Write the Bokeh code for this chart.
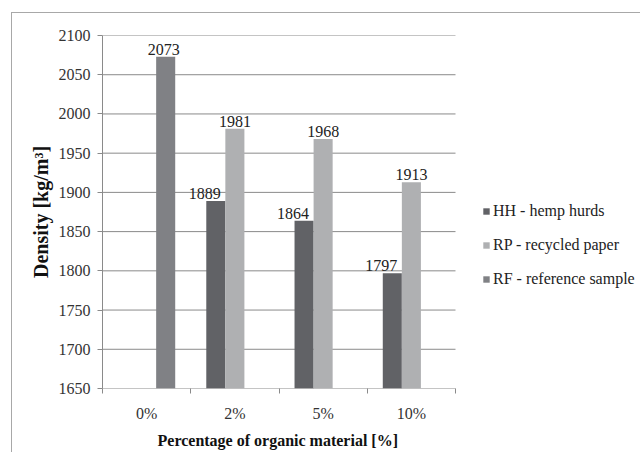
from bokeh.plotting import figure
from bokeh.models import ColumnDataSource, FixedTicker, Legend, LegendItem, Range1d, Title
from bokeh.transform import dodge
from bokeh.embed import file_html
from bokeh.resources import INLINE

# ---- data ----
categories = ["0%", "2%", "5%", "10%"]
hh_values = [None, 1889, 1864, 1797]
rp_values = [None, 1981, 1968, 1913]
rf_values = [2073, None, None, None]
series_names = ["HH - hemp hurds", "RP - recycled paper", "RF - reference sample"]
y_ticks = [1650, 1700, 1750, 1800, 1850, 1900, 1950, 2000, 2050, 2100]
x_title = "Percentage of organic material [%]"
y_title = "Density [kg/m\u00b3]"

colors = ["#616266", "#afb0b2", "#808185"]
offsets = [-0.216, 0.0, 0.216]
label_shift = [-11, 0, -2]
bar_w = 0.216
FONT = "Liberation Serif"
GRID = "#8a8a8a"

W, H = 629, 440
LEFT, RIGHT, TOP, BOTTOM = 90, 0, 22, 65
frame_w = W - LEFT - RIGHT
cat_span_px = 353  # width occupied by the categories inside the frame
n = len(categories)
x_end = n * frame_w / cat_span_px

p = figure(width=W, height=H, output_backend="svg", toolbar_location=None,
           x_range=Range1d(0, x_end), y_range=Range1d(y_ticks[0], y_ticks[-1]),
           min_border_left=LEFT, min_border_right=RIGHT, min_border_top=TOP,
           min_border_bottom=BOTTOM)
p.styles = {"border-top": "1px solid #a8a8a8", "border-left": "1px solid #a8a8a8",
            "margin-top": "12px", "margin-left": "11px"}
p.outline_line_color = None
p.background_fill_color = "white"
p.border_fill_color = "white"

# horizontal gridlines limited to the category area
p.segment(x0=0, x1=n, y0=y_ticks, y1=y_ticks, line_color=GRID, line_width=1)

sources = []
items = []
for name, vals, col, off in zip(series_names, [hh_values, rp_values, rf_values], colors, offsets):
    xs = [i + 0.5 for i, v in enumerate(vals) if v is not None]
    ys = [v for v in vals if v is not None]
    src = ColumnDataSource(dict(x=xs, y=ys, label=[str(v) for v in ys]))
    sources.append(src)
    r = p.vbar(x=dodge("x", off), top="y", bottom=y_ticks[0], width=bar_w, source=src,
               fill_color=col, line_color=None)
    items.append(LegendItem(label=name, renderers=[r]))

for src, off, sh in zip(sources, offsets, label_shift):
    p.text(x=dodge("x", off), y="y", text="label", source=src, text_align="center",
           text_baseline="bottom", x_offset=sh, y_offset=-2, text_font_size="16px",
           text_color="#222222", text_font={"value": FONT})

legend = Legend(items=items, location=(380, 99), orientation="vertical",
                glyph_width=8, glyph_height=8, label_height=20, spacing=14,
                label_standoff=3, padding=0, margin=0, border_line_color=None,
                background_fill_alpha=0)
legend.label_text_font = "'Liberation Serif', 'Times New Roman', serif"
legend.label_text_font_size = "16px"
legend.label_text_font_style = "normal"
legend.label_text_color = "#222222"
p.add_layout(legend, "center")

# axes
p.xaxis.ticker = FixedTicker(ticks=[i + 0.5 for i in range(n)], minor_ticks=list(range(n + 1)))
p.xaxis.major_label_overrides = {i + 0.5: c for i, c in enumerate(categories)}
p.xaxis.major_tick_out = 0
p.xaxis.major_tick_in = 0
p.xaxis.minor_tick_out = 5
p.xaxis.minor_tick_in = 0
p.xaxis.minor_tick_line_color = GRID
p.xaxis.axis_line_color = None
p.xaxis.major_label_standoff = 11

p.add_layout(Title(text=x_title, align="left", offset=55, text_font=FONT,
                   text_font_size="16px", text_font_style="bold", text_color="#111111",
                   standoff=10), "below")

p.yaxis.ticker = FixedTicker(ticks=y_ticks, minor_ticks=[])
p.yaxis.major_tick_out = 5
p.yaxis.major_tick_in = 0
p.yaxis.major_label_standoff = 7
p.yaxis.axis_label = y_title
p.yaxis.axis_label_standoff = 4
p.yaxis.axis_line_color = GRID
p.yaxis.axis_label_text_font_size = "20px"

for ax in [p.xaxis, p.yaxis]:
    ax.major_tick_line_color = GRID
    ax.major_label_text_font = FONT
    ax.major_label_text_font_size = "16px"
    ax.major_label_text_color = "#333333"
    ax.axis_label_text_font = FONT
    ax.axis_label_text_font_style = "bold"
    ax.axis_label_text_color = "#111111"

p.xgrid.visible = False
p.ygrid.visible = False

open("out.html", "w").write(file_html(p, INLINE))
